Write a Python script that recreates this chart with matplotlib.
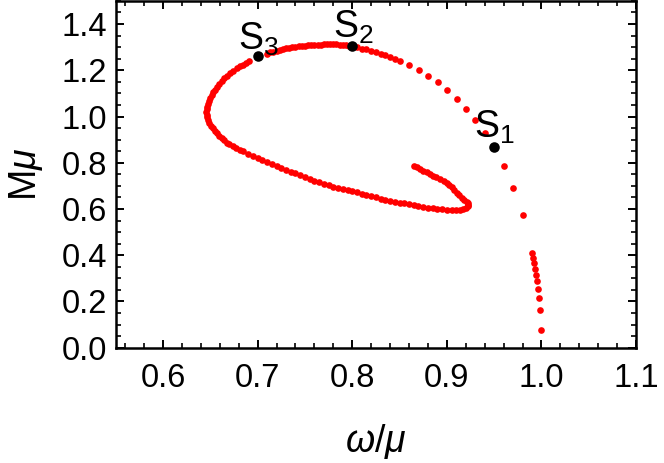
import numpy as np
import matplotlib.pyplot as plt
from matplotlib.ticker import MultipleLocator

plt.rcParams['font.family'] = ['Liberation Sans', 'DejaVu Sans']
plt.rcParams['mathtext.fontset'] = 'custom'
plt.rcParams['mathtext.rm'] = 'Liberation Sans'
plt.rcParams['mathtext.it'] = 'Liberation Sans:italic'

# rama derecha (puntos separados) + tramo superior hasta S2
w_right = [0.9996, 0.9985, 0.9975, 0.9964, 0.9957, 0.9946, 0.9935, 0.9925, 0.9914, 0.9904,
           0.9802, 0.9703, 0.9605, 0.950, 0.9404, 0.9301, 0.9203, 0.9105, 0.9005, 0.8904,
           0.8801, 0.8703, 0.8604, 0.8505, 0.845, 0.840, 0.835, 0.830, 0.825, 0.820,
           0.815, 0.810, 0.805, 0.800]
M_right = [0.075, 0.163, 0.215, 0.254, 0.287, 0.315, 0.341, 0.367, 0.388, 0.410,
           0.573, 0.691, 0.784, 0.862, 0.928, 0.984, 1.033, 1.077, 1.115, 1.149,
           1.176, 1.202, 1.225, 1.242, 1.250, 1.258, 1.264, 1.271, 1.277, 1.284,
           1.290, 1.294, 1.299, 1.305]

# tramo superior S2 -> S3
w_top = [0.7967, 0.7933, 0.790, 0.7867, 0.7833, 0.780, 0.7767, 0.7733, 0.770, 0.7667,
         0.7633, 0.760, 0.7567, 0.7533, 0.750, 0.7467, 0.7433, 0.740, 0.7367, 0.7333,
         0.730, 0.7267, 0.7233, 0.720, 0.7167, 0.7133, 0.710]
M_top = [1.307, 1.309, 1.310, 1.311, 1.312, 1.312, 1.312, 1.312, 1.312, 1.311,
         1.311, 1.310, 1.309, 1.308, 1.307, 1.305, 1.304, 1.302, 1.300, 1.298,
         1.295, 1.292, 1.289, 1.285, 1.281, 1.277, 1.272]

# lazo izquierdo (denso)
w_loop = [0.6912, 0.688, 0.6848, 0.6814, 0.678, 0.6745, 0.6708, 0.6678, 0.6648, 0.662,
          0.6595, 0.6572, 0.655, 0.6532, 0.6514, 0.6497, 0.6485, 0.6474, 0.6465, 0.6460,
          0.6458, 0.6460, 0.6466, 0.6475, 0.6488, 0.6505, 0.6525, 0.6546, 0.6568, 0.6593,
          0.6620, 0.6645, 0.6673, 0.670, 0.6735, 0.6772, 0.6814]
M_loop = [1.238, 1.232, 1.2245, 1.2165, 1.208, 1.199, 1.188, 1.177, 1.165, 1.1515,
          1.140, 1.128, 1.1156, 1.104, 1.092, 1.0797, 1.068, 1.056, 1.0433, 1.031,
          1.019, 1.0074, 0.996, 0.984, 0.9725, 0.961, 0.950, 0.939, 0.928, 0.9175,
          0.907, 0.897, 0.8874, 0.879, 0.871, 0.863, 0.8558]

# rama inferior
w_low = [0.685, 0.690, 0.695, 0.700, 0.705, 0.710, 0.715, 0.720, 0.725, 0.730,
         0.735, 0.740, 0.745, 0.750, 0.755, 0.760, 0.765, 0.770, 0.775, 0.780,
         0.785, 0.790, 0.795, 0.800, 0.805, 0.810, 0.815, 0.820, 0.825, 0.830,
         0.835, 0.840, 0.845, 0.850, 0.855, 0.860, 0.865, 0.870, 0.875, 0.880,
         0.885, 0.890, 0.895, 0.900, 0.905, 0.910]
M_low = [0.849, 0.838, 0.828, 0.819, 0.811, 0.803, 0.795, 0.787, 0.778, 0.770,
         0.762, 0.754, 0.746, 0.738, 0.730, 0.722, 0.715, 0.709, 0.703, 0.697,
         0.692, 0.687, 0.682, 0.677, 0.672, 0.667, 0.661, 0.656, 0.650, 0.645,
         0.640, 0.636, 0.632, 0.628, 0.624, 0.620, 0.616, 0.613, 0.609, 0.606,
         0.604, 0.601, 0.599, 0.597, 0.596, 0.596]

# vuelta final (espiral)
w_end = [0.914, 0.917, 0.920, 0.922, 0.9227, 0.922, 0.921, 0.9185, 0.9158, 0.913,
         0.9105, 0.908, 0.9052, 0.9025, 0.8999, 0.8965, 0.8928, 0.889, 0.8857, 0.882,
         0.8788, 0.8752, 0.8717, 0.8685, 0.8653]
M_end = [0.597, 0.599, 0.604, 0.611, 0.618, 0.625, 0.632, 0.640, 0.6468, 0.659,
         0.671, 0.683, 0.694, 0.703, 0.7117, 0.720, 0.729, 0.737, 0.7446, 0.752,
         0.759, 0.766, 0.7736, 0.780, 0.7866]

# soluciones marcadas
s_names = ['1', '2', '3']
s_w = [0.95, 0.80, 0.70]
s_M = [0.8675, 1.306, 1.26]
lab_w = [0.929, 0.780, 0.679]
lab_M = [0.908, 1.339, 1.289]

fig = plt.figure(figsize=(6.64, 4.63), dpi=100)
ax = fig.add_axes([0.1742, 0.249, 0.7838, 0.749])

for w, M in [(w_right, M_right), (w_top, M_top), (w_loop, M_loop),
             (w_low, M_low), (w_end, M_end)]:
    ax.plot(w, M, 'o', color='#ff0000', markersize=4.8, markeredgewidth=0)

ax.plot(s_w, s_M, 'o', color='black', markersize=7.6, markeredgewidth=0, zorder=5)
for n, x, y in zip(s_names, lab_w, lab_M):
    ax.text(x, y, r'$\mathrm{S}_{%s}$' % n, fontsize=27, ha='left', va='baseline', zorder=6)

ax.set_xlim(0.55, 1.1)
ax.set_ylim(0.0, 1.5)
ax.xaxis.set_major_locator(MultipleLocator(0.1))
ax.xaxis.set_minor_locator(MultipleLocator(0.02))
ax.yaxis.set_major_locator(MultipleLocator(0.2))
ax.yaxis.set_minor_locator(MultipleLocator(0.05))
ax.xaxis.set_major_formatter(plt.FormatStrFormatter('%.1f'))
ax.yaxis.set_major_formatter(plt.FormatStrFormatter('%.1f'))

ax.tick_params(which='both', direction='in', top=True, right=True, labelsize=23.5, color='black')
ax.tick_params(which='major', length=6, width=1.4)
ax.tick_params(which='minor', length=3.5, width=1.2)
ax.tick_params(axis='x', pad=11)
ax.tick_params(axis='y', pad=6)
for sp in ax.spines.values():
    sp.set_linewidth(1.8)

ax.set_xlabel(r'$\omega/\mu$', fontsize=27)
ax.set_ylabel(r'M$\mu$', fontsize=27)
ax.xaxis.set_label_coords(0.5, -0.215)
ax.yaxis.set_label_coords(-0.135, 0.5)

fig.savefig('out.png', dpi=100)
